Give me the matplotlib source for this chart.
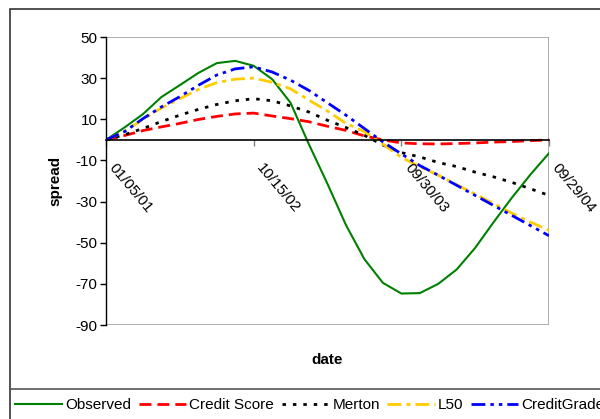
import numpy as np
import matplotlib
matplotlib.use("Agg")
import matplotlib.pyplot as plt
from matplotlib.patches import Rectangle
from matplotlib.transforms import ScaledTranslation

plt.rcParams["font.family"] = ["Liberation Sans", "DejaVu Sans"]
plt.rcParams["lines.scale_dashes"] = False
plt.rcParams["axes.unicode_minus"] = False

# spread series, one value per period
dates = ["01/05/01", "10/15/02", "09/30/03", "09/29/04"]
tick_pos = [0, 8, 16, 24]
observed = [0, 6, 12.5, 20.8, 26.6, 32.5, 37.3, 38.4, 36, 29.5, 18, -2.3, -21.4,
            -41.4, -58, -69.5, -74.7, -74.5, -70, -63, -52.5, -40, -28, -16.8, -6.5]
credit_score = [0, 2.1, 4.5, 6.3, 8, 9.9, 11.4, 12.6, 13, 11.6, 10.3, 8.8, 6.6,
                4.6, 1.9, 0, -1.5, -1.9, -2, -1.8, -1.5, -1.1, -0.8, -0.4, 0]
merton = [0, 2.5, 5.5, 8.9, 12, 14.8, 17.2, 19, 20, 19, 16.5, 13.5, 9.5,
          6, 2.2, -2.5, -6.2, -8.3, -11, -13, -15.7, -18, -20.7, -23.8, -27]
l50 = [0, 4, 10, 15.5, 20, 24.5, 27.8, 29.5, 30, 28, 24.8, 19.3, 14,
       8, 4, -2, -8.5, -13, -17.2, -21.8, -26.4, -31, -35.7, -40, -44]
creditgrades = [0, 4, 10.3, 16, 21, 26.5, 31.5, 34.5, 35.5, 33, 29, 24, 18,
                12, 5.5, -1, -6.8, -12.5, -17.2, -22.1, -27, -31.9, -36.8, -41.7, -46.6]

x = np.arange(len(observed))

fig = plt.figure(figsize=(6, 4.19), dpi=100)

# outer chart frame
fig.patches.append(Rectangle((10 / 600, -0.05), 1.0, 1 - 9 / 419 + 0.05,
                             transform=fig.transFigure, fill=False,
                             edgecolor="#333333", lw=1.2))

ax = fig.add_axes([106 / 600, 1 - 325 / 419, 443 / 600, 288 / 419])
ax.add_patch(Rectangle((0, 0), 1, 1, transform=ax.transAxes, fill=False,
                       edgecolor="#a0a0a0", lw=1.2, zorder=0.5))

ax.plot(x, observed, color="#008000", lw=1.5, label="Observed")
ax.plot(x, credit_score, color="#ff0000", lw=2.0, dashes=(8.6, 4.3), label="Credit Score")
ax.plot(x, merton, color="black", lw=2.0, dashes=(2.5, 5.0), label="Merton")
ax.plot(x, l50, color="#ffcc00", lw=2.0, dashes=(10, 3.6, 2.9, 3.6), label="L50")
ax.plot(x, creditgrades, color="#0000ff", lw=2.0,
        dashes=(10, 3.6, 2.5, 3.6, 2.5, 3.6), label="CreditGrades")

ax.set_xlim(0, 24)
ax.set_ylim(-90, 50)
ax.set_yticks(np.arange(-90, 51, 20))

for side in ["top", "right"]:
    ax.spines[side].set_visible(False)
ax.spines["left"].set_color("black")
ax.spines["left"].set_linewidth(1.0)
ax.spines["bottom"].set_position(("data", 0))
ax.spines["bottom"].set_color("black")
ax.spines["bottom"].set_linewidth(1.2)

ax.set_xticks(tick_pos)
ax.set_xticklabels([])
ax.tick_params(axis="x", direction="out", length=4, width=1, color="#808080")
ax.tick_params(axis="y", direction="out", length=4, width=1, color="black",
               labelsize=11, pad=2)

# slanted date labels hanging below the zero line
shift = ScaledTranslation(11 / 100, -21 / 100, fig.dpi_scale_trans)
for pos, d in zip(tick_pos, dates):
    ax.text(pos, 0, d, transform=ax.transData + shift, rotation=-50,
            rotation_mode="anchor", ha="left", va="top", fontsize=11,
            clip_on=False)

fig.text(55 / 600, 1 - 181 / 419, "spread", rotation=90, ha="center", va="center",
         fontsize=11, fontweight="bold")
fig.text(327 / 600, 1 - 360 / 419, "date", ha="center", va="center",
         fontsize=11, fontweight="bold")

# legend strip along the bottom
fig.patches.append(Rectangle((10 / 600, -0.05), 1.0, 0.05 + 1 - 389 / 419,
                             transform=fig.transFigure, fill=False,
                             edgecolor="#555555", lw=1.2))
fig.legend(loc="center left", bbox_to_anchor=(15 / 600, 1 - 405 / 419), ncol=5,
           frameon=False, fontsize=11, handlelength=3.1, handletextpad=0.2,
           columnspacing=0.5, borderpad=0, borderaxespad=0)

fig.savefig("out.png", dpi=100)
